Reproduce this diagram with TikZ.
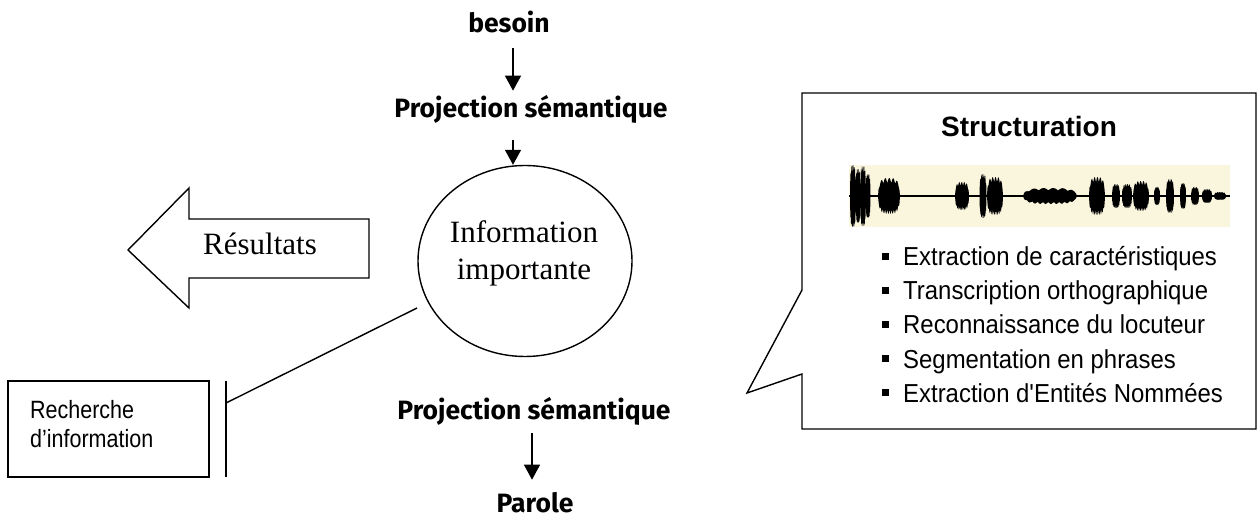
\documentclass[tikz,border=0pt]{standalone}
\usepackage{fontspec}
\setmainfont{Liberation Serif}
\newfontfamily\headfont{Fira Sans}
\newfontfamily\narrowfont[FakeStretch=0.92]{Liberation Sans}
\newfontfamily\boxfont[FakeStretch=0.86]{Liberation Sans}
\newfontfamily\titlefont{Liberation Sans}
\usetikzlibrary{shapes.geometric,arrows.meta}
\definecolor{wavebg}{RGB}{250,246,222}
\newcommand\sqbullet{\rule[6pt]{7pt}{7pt}\hspace{14pt}}
\tikzset{
  lbl/.style={font=\headfont\bfseries\fontsize{26.5}{30}\selectfont, inner sep=0pt, anchor=base},
  serif/.style={font=\fontsize{31}{36}\selectfont, inner sep=0pt, anchor=base},
  item/.style={font=\narrowfont\fontsize{26}{30}\selectfont, inner sep=0pt, anchor=base west},
  boxtext/.style={font=\boxfont\fontsize{25}{30}\selectfont, inner sep=0pt, anchor=base west},
  flow/.style={-{Triangle[width=16pt,length=15pt]}, line width=1.4pt},
  outline/.style={line width=1.4pt}
}
\begin{document}
\begin{tikzpicture}[x=1pt,y=-1pt]
\fill[white] (0,0) rectangle (1257,518);
\useasboundingbox (0,0) rectangle (1257,518);

% central flow
\node[lbl] (besoin) at (509,33) {besoin};
\node[lbl] (proj1) at (531,118) {Projection sémantique};
\node[draw, outline, ellipse, inner sep=0pt, minimum width=214pt, minimum height=191pt] (info) at (525,261) {};
\node[serif] (infoA) at (524,243) {Information};
\node[serif] (infoB) at (524,280) {importante};
\node[lbl] (proj2) at (534,419) {Projection sémantique};
\node[lbl] (parole) at (535,512) {Parole};

\draw[flow] ([xshift=4pt,yshift=-14pt]besoin.south) -- ([xshift=-18pt,yshift=5pt]proj1.north);
\draw[flow] ([xshift=-18pt,yshift=-16pt]proj1.south) -- ([xshift=-12pt]info.north);
\draw[flow] ([xshift=-2pt,yshift=-8pt]proj2.south) -- ([xshift=-3pt,yshift=12pt]parole.north);

% results arrow
\draw[outline, line join=miter] (128,250) -- (189,188) -- (189,219) -- (369,219) -- (369,278) -- (189,278) -- (189,308) -- cycle;
\node[serif] (res) at (260,255) {Résultats};

% information retrieval box
\node[draw, outline, rectangle, minimum width=201pt, minimum height=96pt, inner sep=0pt] (ribox) at (108.5,429) {};
\node[boxtext] (riA) at (30,418) {Recherche};
\node[boxtext] (riB) at (30,447) {d’information};
\coordinate (barTop) at (226,381);
\coordinate (barBot) at (226,477);
\coordinate (barJoin) at (226,403);
\coordinate (infoTail) at (417,308);
\draw[outline] (barTop) -- (barBot);
\draw[outline] (infoTail) -- (barJoin);

% structuring callout
\draw[outline, line join=miter] (802,93) -- (1256,93) -- (1256,429) -- (802,429) -- (802,374) -- (747,393) -- (802,290) -- cycle;
\node[font=\titlefont\bfseries\fontsize{28}{32}\selectfont, inner sep=0pt, anchor=base] (struct) at (1029,137) {Structuration};

% speech waveform
\fill[wavebg] (849,165) rectangle (1230,227);
\draw[line width=1.3pt] (849,196) -- (1230,196);
\foreach \px/\pw/\pa in {853/3/31, 858/2.5/27, 863/3/30, 868/2.5/22, 889/11/18, 962/7/14, 983/3.5/22, 995/8/19,
  1050/27/8, 1097/8/19, 1116/4/12, 1127/5/12, 1141/8/15, 1157/3/9, 1170/4/17, 1183/3/13,
  1195/4/9, 1207/5/7, 1220/6/4}{
  \fill plot[domain=-1:1, samples=41] ({\px+\pw*\x},{196-\pa*sqrt(abs(1-\x*\x*\x*\x))*(0.7+0.3*abs(sin(\x*3100+\px*7)))})
    -- plot[domain=1:-1, samples=41] ({\px+\pw*\x},{196+\pa*sqrt(abs(1-\x*\x*\x*\x))*(0.7+0.3*abs(cos(\x*2700+\px*5)))}) -- cycle;
}

% task list
\node[item] (t1) at (882,266) {\sqbullet Extraction de caractéristiques};
\node[item] (t2) at (882,300) {\sqbullet Transcription orthographique};
\node[item] (t3) at (882,334) {\sqbullet Reconnaissance du locuteur};
\node[item] (t4) at (882,368) {\sqbullet Segmentation en phrases};
\node[item] (t5) at (882,402) {\sqbullet Extraction d'Entités Nommées};
\end{tikzpicture}
\end{document}
